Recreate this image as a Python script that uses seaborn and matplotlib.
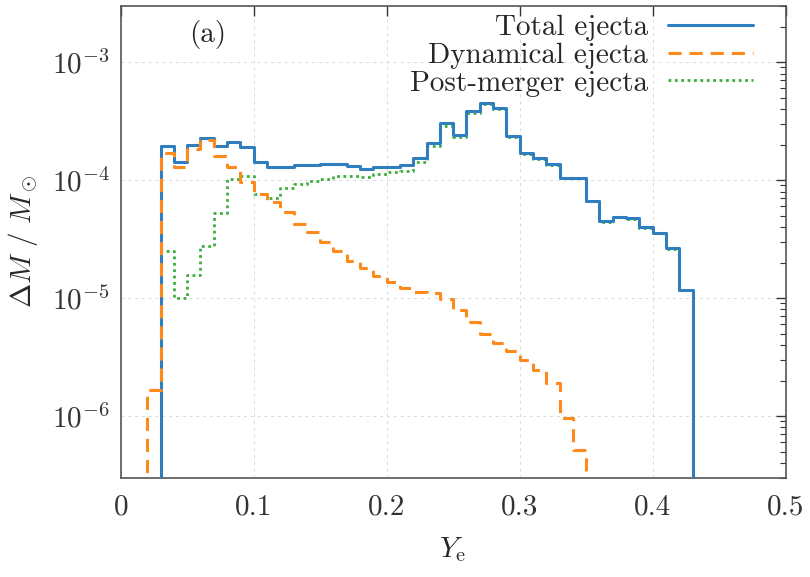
import numpy as np
import pandas as pd
import seaborn as sns
import matplotlib.pyplot as plt
from matplotlib.ticker import LogLocator, NullFormatter

# Ye bins of width 0.01 from 0.01 to 0.44 (empty first/last bins close the steps)
ye_left = np.arange(1, 44) / 100
n_bins = len(ye_left)

total = [0, 0, 1.96e-4, 1.42e-4, 2.0e-4, 2.27e-4, 1.93e-4, 2.1e-4, 1.9e-4,
         1.42e-4, 1.3e-4, 1.3e-4, 1.33e-4, 1.35e-4, 1.37e-4, 1.37e-4, 1.31e-4,
         1.25e-4, 1.28e-4, 1.3e-4, 1.34e-4, 1.54e-4, 2.07e-4, 3.05e-4, 2.4e-4,
         3.84e-4, 4.47e-4, 4.05e-4, 2.36e-4, 1.7e-4, 1.53e-4, 1.37e-4, 1.05e-4,
         1.05e-4, 6.66e-5, 4.49e-5, 4.9e-5, 4.75e-5, 4.0e-5, 3.57e-5, 2.66e-5,
         1.17e-5, 0]

dynamical = [0, 1.66e-6, 1.7e-4, 1.3e-4, 1.85e-4, 2.17e-4, 1.6e-4, 1.29e-4, 9.6e-5,
             7.6e-5, 6.5e-5, 5.35e-5, 4.24e-5, 3.6e-5, 2.96e-5, 2.5e-5, 2.06e-5,
             1.8e-5, 1.54e-5, 1.37e-5, 1.22e-5, 1.13e-5, 1.1e-5, 9.75e-6, 7.9e-6,
             6.3e-6, 5.0e-6, 4.16e-6, 3.54e-6, 3.0e-6, 2.48e-6, 1.9e-6, 9.6e-7,
             5.2e-7, 0, 0, 0, 0, 0, 0, 0, 0, 0]

post_merger = [0, 0, 2.5e-5, 1.0e-5, 1.58e-5, 2.75e-5, 5.3e-5, 1.02e-4, 1.09e-4,
               7.6e-5, 7.1e-5, 8.6e-5, 9.2e-5, 9.9e-5, 1.03e-4, 1.09e-4, 1.09e-4,
               1.07e-4, 1.13e-4, 1.16e-4, 1.2e-4, 1.42e-4, 1.96e-4, 2.9e-4, 2.3e-4,
               3.7e-4, 4.4e-4, 4.0e-4, 2.32e-4, 1.67e-4, 1.5e-4, 1.35e-4, 1.04e-4,
               1.04e-4, 6.6e-5, 4.45e-5, 4.85e-5, 4.7e-5, 3.95e-5, 3.53e-5, 2.63e-5,
               1.16e-5, 0]

df = pd.DataFrame({'Ye': ye_left + 0.005, 'total': total,
                   'dynamical': dynamical, 'post_merger': post_merger})

sns.set_style("white")
plt.rcParams['font.family'] = ['cmr10', 'DejaVu Serif']
plt.rcParams['mathtext.fontset'] = 'cm'
plt.rcParams['axes.formatter.use_mathtext'] = True
plt.rcParams['font.size'] = 21

fig = plt.figure(figsize=(8.1, 5.77), dpi=100)
ax = fig.add_axes([0.149, 0.172, 0.821, 0.818])

hist_kw = dict(data=df, x='Ye', bins=n_bins, binrange=(0.01, 0.44),
               element='step', fill=False, ax=ax)
sns.histplot(weights='post_merger', color='#3cae3c', linewidth=2.0,
             linestyle=(0, (1, 1.3)), label='Post-merger ejecta', zorder=2, **hist_kw)
sns.histplot(weights='total', color='#2f7fc0', linewidth=2.2,
             label='Total ejecta', zorder=3, **hist_kw)
sns.histplot(weights='dynamical', color='#ff8a1c', linewidth=2.2,
             linestyle=(0, (4.3, 2.6)), label='Dynamical ejecta', zorder=4, **hist_kw)

ax.set_yscale('log')
ax.set_xlim(0, 0.5)
ax.set_ylim(3e-7, 3e-3)
ax.yaxis.set_major_locator(LogLocator(base=10))
ax.yaxis.set_minor_locator(LogLocator(base=10, subs=np.arange(2, 10)))
ax.yaxis.set_minor_formatter(NullFormatter())
ax.set_xticks([0, 0.1, 0.2, 0.3, 0.4, 0.5])
ax.set_xticklabels(['0', '0.1', '0.2', '0.3', '0.4', '0.5'])
ax.set_ylabel('')

ax.tick_params(which='both', direction='in', top=True, right=True, colors='#333333')
ax.tick_params(which='major', length=7, width=1, pad=12)
ax.tick_params(which='minor', length=4, width=0.8)
ax.tick_params(axis='y', which='major', pad=8)
ax.grid(True, which='major', linestyle=(0, (3, 4)), color='#dadada', linewidth=0.7)
for s in ax.spines.values():
    s.set_color('#555555')
    s.set_linewidth(1.2)

ax.set_xlabel(r'$Y_\mathrm{e}$', labelpad=10)
ax.set_ylabel(r'$\Delta M\ /\ M_\odot$', labelpad=8)
ax.text(0.131, 0.939, '(a)', transform=ax.transAxes, ha='center', va='center')

handles, labels = ax.get_legend_handles_labels()
order = [labels.index(l) for l in ['Total ejecta', 'Dynamical ejecta', 'Post-merger ejecta']]
ax.legend([handles[i] for i in order], [labels[i] for i in order],
          loc='upper right', bbox_to_anchor=(753 / 810, 0.975), bbox_transform=fig.transFigure,
          frameon=False, markerfirst=False, handlelength=2.9, handletextpad=0.7,
          labelspacing=0.05, borderpad=0, borderaxespad=0)

fig.savefig('out.png', dpi=100)
